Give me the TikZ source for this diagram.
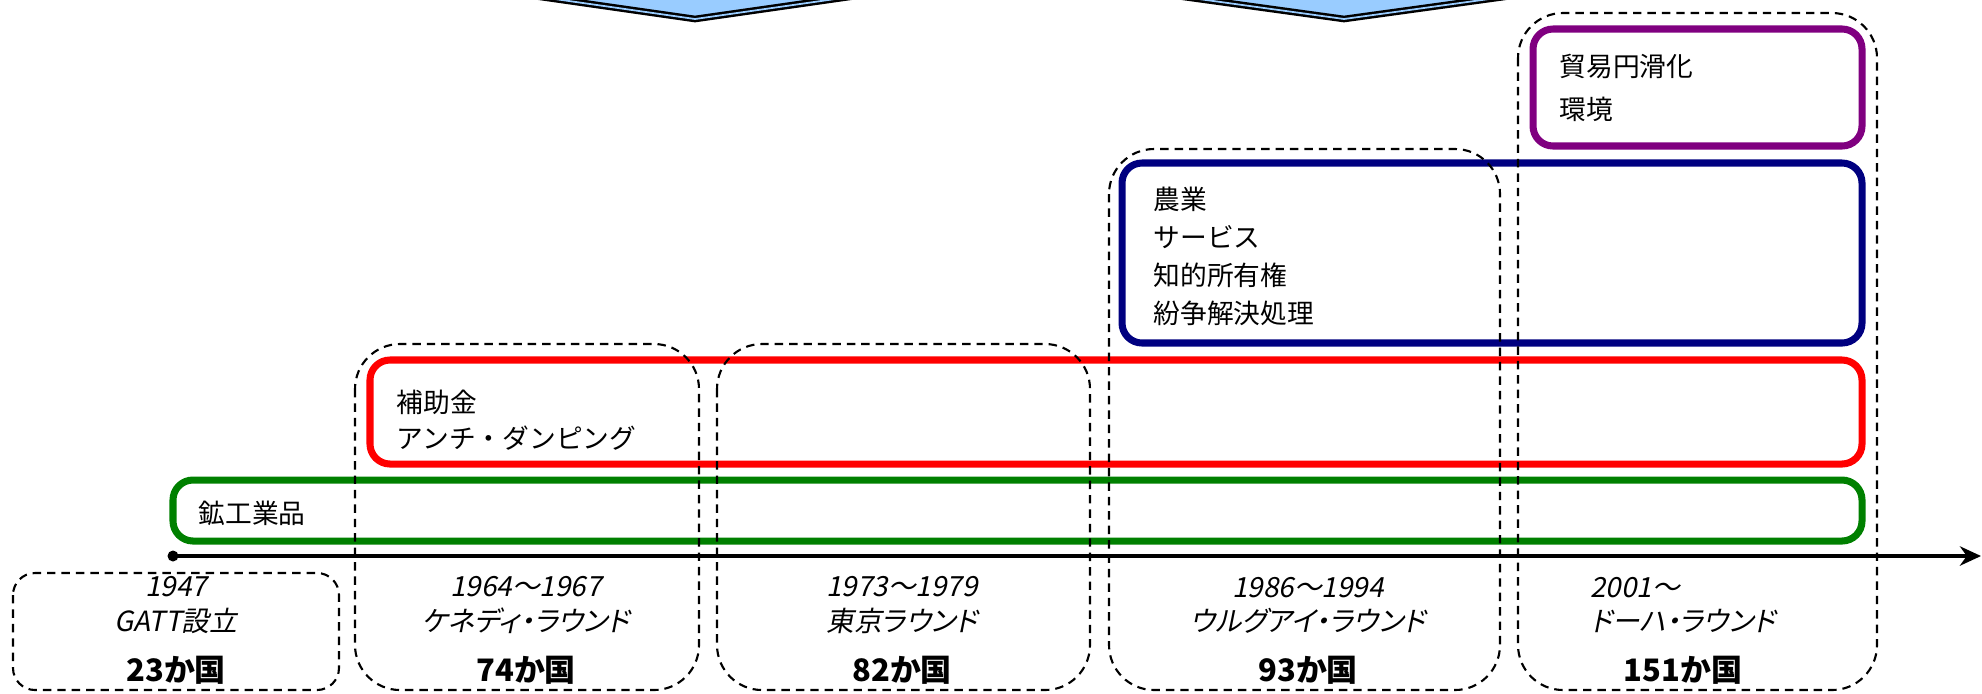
\documentclass[tikz,border=0pt]{standalone}
\usepackage{fontspec}
\setmainfont{Noto Sans CJK JP}
\newfontfamily\jpslant{Noto Sans CJK JP}[FakeSlant=0.2, RawFeature=+palt]
\newfontfamily\jpbold{Noto Sans CJK JP}[RawFeature=+palt]
\usetikzlibrary{arrows.meta}

\definecolor{minegreen}{RGB}{0,128,0}
\definecolor{subsred}{RGB}{255,0,0}
\definecolor{agrinavy}{RGB}{0,0,128}
\definecolor{facilpurple}{RGB}{128,0,128}
\definecolor{chevblue}{RGB}{153,204,255}

\begin{document}
\begin{tikzpicture}[
    x=0.01cm, y=-0.01cm,
    line/.style={line width=1.2pt, -{Stealth[length=6pt, width=5.5pt]}},
    topic/.style={line width=2pt, rounded corners=0.2cm},
    roundbox/.style={line width=0.6pt, dash pattern=on 2.4pt off 1.7pt, rounded corners=0.45cm},
    chevron/.style={fill=chevblue, draw=black, line width=0.7pt, double=chevblue, double distance=0.5pt, line join=miter},
    item/.style={anchor=west, align=left, inner sep=0pt, font=\fontsize{7.6}{10.4}\selectfont},
    period/.style={align=center, inner sep=0pt, font=\jpslant\fontsize{7.9}{9.7}\selectfont},
    members/.style={inner sep=0pt, font=\jpbold\bfseries\fontsize{8.8}{10}\selectfont}
]
    \useasboundingbox (0,0) rectangle (1982,693);
    \clip (0,0) rectangle (1982,693);

    % 上部の矢印(下向き)
    \draw[chevron] (422,-20) -- (695,19) -- (968,-20) -- cycle;
    \draw[chevron] (1061,-20) -- (1344,19) -- (1627,-20) -- cycle;

    % 交渉分野の枠
    \draw[topic, minegreen] (173,480) rectangle (1862,541);
    \node[item] (mining) at (198,513) {鉱工業品};

    \draw[topic, subsred] (370,360) rectangle (1862,464);
    \node[item] (subsidy) at (396,420) {補助金\\アンチ・ダンピング};

    \draw[topic, agrinavy] (1122,163) rectangle (1862,343);
    \node[item, font=\fontsize{7.6}{10.8}\selectfont] (agri) at (1153,256) {農業\\サービス\\知的所有権\\紛争解決処理};

    \draw[topic, facilpurple] (1533,29) rectangle (1862,146);
    \node[item, font=\fontsize{7.6}{12.4}\selectfont] (facil) at (1559,88) {貿易円滑化\\環境};

    % 時間軸
    \fill[black] (173,556) circle (5.5);
    \node[inner sep=0pt] (start) at (173,556) {};
    \coordinate (end) at (1981,556);
    \draw[line] (start.center) -- (end);

    % 各ラウンドの枠
    \draw[roundbox, rounded corners=0.22cm] (13,573) rectangle (339,690);
    \draw[roundbox] (355,344) rectangle (699,690);
    \draw[roundbox] (717,344) rectangle (1090,690);
    \draw[roundbox] (1109,149) rectangle (1500,690);
    \draw[roundbox] (1518,13) rectangle (1877,690);

    % 年・ラウンド名・参加国数
    \node[period] (gatt) at (176,605) {1947\\GATT設立};
    \node[members] (n23) at (176,670) {23か国};

    \node[period] (kennedy) at (526,605) {1964～1967\\ケネディ・ラウンド};
    \node[members] (n74) at (526,670) {74か国};

    \node[period] (tokyo) at (902,605) {1973～1979\\東京ラウンド};
    \node[members] (n82) at (902,670) {82か国};

    \node[period] (uruguay) at (1308,605) {1986～1994\\ウルグアイ・ラウンド};
    \node[members] (n93) at (1308,670) {93か国};

    \node[period, align=left] (doha) at (1683,605) {2001～\\ドーハ・ラウンド};
    \node[members] (n151) at (1683,670) {151か国};
\end{tikzpicture}
\end{document}
